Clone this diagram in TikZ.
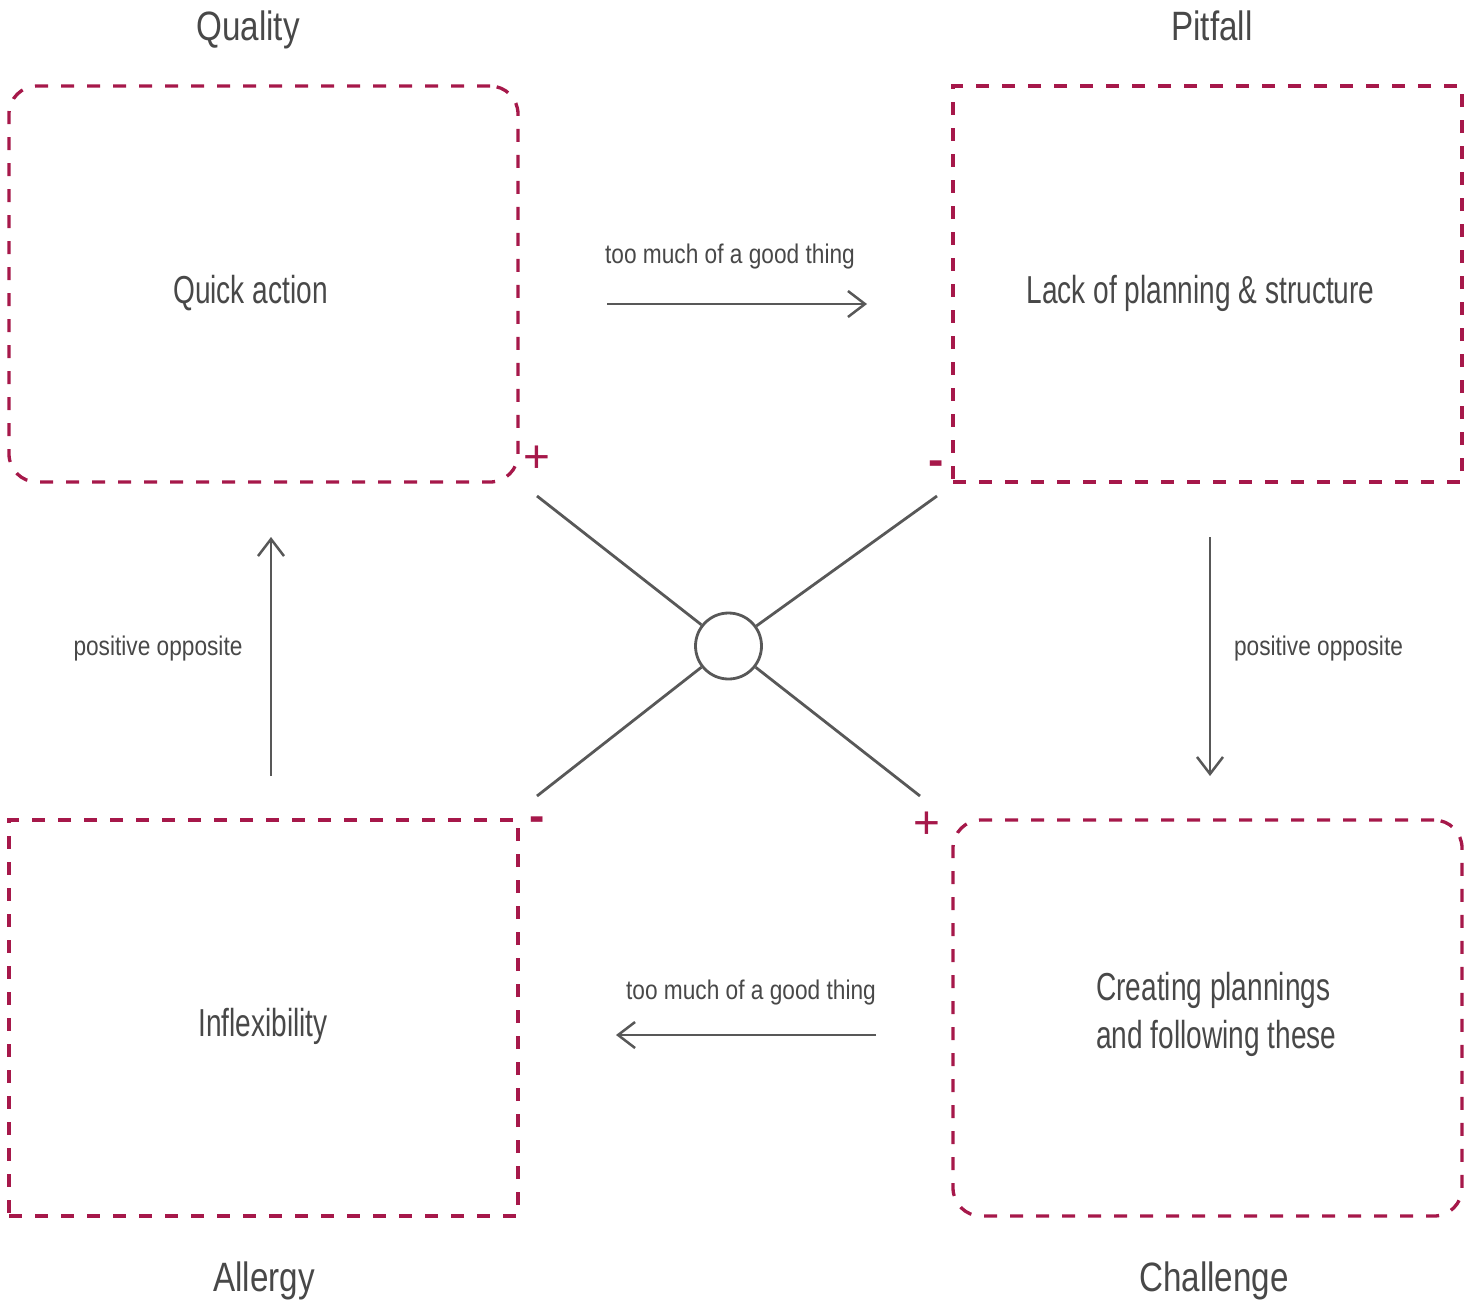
\documentclass[tikz,border=0pt]{standalone}
\usepackage{fontspec}
\setmainfont{Liberation Sans}
\newfontfamily\titlefont[FakeStretch=0.81]{Liberation Sans}
\newfontfamily\boxfont[FakeStretch=0.72]{Liberation Sans}
\newfontfamily\labelfont[FakeStretch=0.84]{Liberation Sans}
\usetikzlibrary{arrows.meta}
\definecolor{crimson}{RGB}{166,24,74}
\definecolor{inkgray}{RGB}{72,72,72}
\definecolor{linegray}{RGB}{88,88,88}
\begin{document}
\begin{tikzpicture}[x=1pt,y=-1pt,
  quadrant/.style={draw=crimson, line width=3.3pt, dash pattern=on 13pt off 13pt,
    minimum width=509pt, minimum height=396pt, inner sep=0pt},
  roundquad/.style={quadrant, rounded corners=28pt},
  title/.style={text=inkgray, font=\titlefont\fontsize{41}{48}\selectfont, anchor=base, inner sep=0pt},
  boxtext/.style={text=inkgray, font=\boxfont\fontsize{39}{48}\selectfont, inner sep=0pt},
  lbl/.style={text=inkgray, font=\labelfont\fontsize{27}{32}\selectfont, anchor=base, inner sep=0pt},
  flow/.style={draw=linegray, line width=2.5pt, -{Straight Barb[length=17pt,width=26pt]}},
  spoke/.style={draw=linegray, line width=2.8pt},
  plussign/.style={text=crimson, inner sep=0pt, font=\fontsize{46}{48}\selectfont},
  minussign/.style={text=crimson, inner sep=0pt, font=\bfseries\fontsize{46}{48}\selectfont},
]
\useasboundingbox (0,0) rectangle (1479,1304);

% the four quadrants
\node[roundquad] (quality)   at (263.5,284)  {};
\node[quadrant]  (pitfall)   at (1207.5,284) {};
\node[quadrant]  (allergy)   at (263.5,1018) {};
\node[roundquad] (challenge) at (1207.5,1018) {};

% headings
\node[title] (tq) at (248,40)    {Quality};
\node[title] (tp) at (1212,40)   {Pitfall};
\node[title] (ta) at (264,1291)  {Allergy};
\node[title] (tc) at (1214,1291) {Challenge};

% quadrant contents
\node[boxtext, anchor=base] (qtext) at (250.5,303) {Quick action};
\node[boxtext, anchor=base] (ptext) at (1200.5,303) {Lack of planning \& structure};
\node[boxtext, anchor=base] (atext) at (263,1036) {Inflexibility};
\node[boxtext, anchor=west, align=left] (ctext) at (1096,1014) {Creating plannings\\and following these};

% central hub and spokes
\node[circle, draw=linegray, line width=2.8pt, minimum size=66pt, inner sep=0pt] (hub) at (728.5,646) {};
\coordinate (sq) at (537,496);
\coordinate (sp) at (937,496);
\coordinate (sa) at (537,796);
\coordinate (sc) at (920,796);
\draw[spoke] (sq) -- (hub);
\draw[spoke] (sp) -- (hub);
\draw[spoke] (sa) -- (hub);
\draw[spoke] (sc) -- (hub);

% plus and minus marks
\node[plussign]  (plusq)  at (537,459)     {+};
\node[minussign] (minusp) at (936.5,468)   {-};
\node[minussign] (minusa) at (537.5,824.5) {-};
\node[plussign]  (plusc)  at (927,825)     {+};

% relations between the quadrants
\coordinate (topfrom) at (607,304);
\coordinate (topto)   at (867,304);
\coordinate (botfrom) at (876,1035);
\coordinate (botto)   at (616,1035);
\coordinate (leftfrom) at (271,776);
\coordinate (leftto)   at (271,537);
\coordinate (rightfrom) at (1210,537);
\coordinate (rightto)   at (1210,776);
\draw[flow] (topfrom) -- (topto);
\draw[flow] (botfrom) -- (botto);
\draw[flow] (leftfrom) -- (leftto);
\draw[flow] (rightfrom) -- (rightto);

\node[lbl] (ltop)   at (730,263)   {too much of a good thing};
\node[lbl] (lbot)   at (751,999)   {too much of a good thing};
\node[lbl] (lleft)  at (158,655)   {positive opposite};
\node[lbl] (lright) at (1318.5,655) {positive opposite};
\end{tikzpicture}
\end{document}
